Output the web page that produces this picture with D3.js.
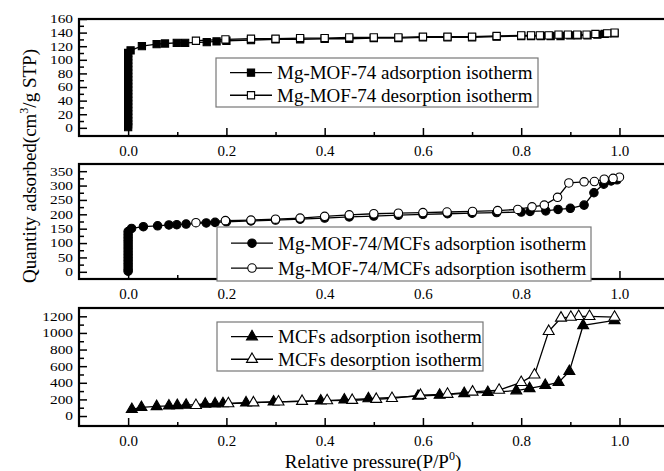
<!DOCTYPE html>
<html><head><meta charset="utf-8">
<script src="https://cdn.jsdelivr.net/npm/d3@7"></script>
<style>
body{margin:0;background:#fff;}
svg{display:block;font-family:"Liberation Serif","Times New Roman",serif;}
</style></head>
<body>
<svg id="chart" width="664" height="471"></svg>
<script>
// ---------- data ----------
const xTicks = [0.0, 0.2, 0.4, 0.6, 0.8, 1.0];
const xMinorTicks = [0.1, 0.3, 0.5, 0.7, 0.9];

// Panel 1: Mg-MOF-74
const mofAdsX = [0,0,0,0,0,0,0,0,0,0,0,0,0,0,0,0,0,0,0,0,0,0,0,
  0.005,0.028,0.058,0.075,0.099,0.116,0.16,0.18,0.2,0.25,0.3,0.35,0.4,0.45,0.5,0.55,0.6,0.65,0.7,0.75,0.8,0.82,0.84,0.86,0.88,0.9,0.915,0.935,0.955,0.97,0.99];
const mofAdsY = [1,5,10,15,20,25,30,35,40,45,50,55,60,65,70,75,80,85,90,95,100,105,110,
  114,120,123,124,125,125,126,127,128,129,130,130,131,131,132,132,133,133,133,134,135,135,135,135,135,136,136,136,137,138,139];
const mofDesX = [0.99,0.975,0.951,0.933,0.914,0.895,0.876,0.856,0.838,0.82,0.80,0.75,0.70,0.65,0.60,0.55,0.50,0.45,0.40,0.35,0.30,0.25,0.198,0.138];
const mofDesY = [140,139,138,137,137,137,137,136,136,136,136,135,134,134,134,133,133,133,132,132,131,131,130,128];
const mofYTicks = [0,20,40,60,80,100,120,140,160];
const mofYMinor = [10,30,50,70,90,110,130,150];

// Panel 2: Mg-MOF-74/MCFs
const compAdsX = [0,0,0,0,0,0,0,0,0,0,0,0,0,0,0,
  0.007,0.031,0.06,0.083,0.099,0.118,0.159,0.177,0.2,0.25,0.3,0.35,0.4,0.45,0.5,0.55,0.6,0.65,0.7,0.75,0.8,0.818,0.85,0.875,0.9,0.928,0.948,0.968,0.983,0.995];
const compAdsY = [2,10,20,30,40,50,60,70,80,90,100,110,120,130,140,
  151,157,160,163,164,166,170,172,174,177,180,183,187,191,194,197,200,202,204,206,208,210,212,217,221,232,275,305,316,320];
const compDesX = [1.0,0.987,0.969,0.949,0.928,0.897,0.874,0.847,0.822,0.793,0.752,0.701,0.649,0.6,0.55,0.5,0.45,0.4,0.35,0.3,0.25,0.198,0.138];
const compDesY = [329,325,322,314,313,309,259,232,226,217,213,210,208,206,204,202,198,193,187,183,180,178,171];
const compYTicks = [0,50,100,150,200,250,300,350];
const compYMinor = [25,75,125,175,225,275,325];

// Panel 3: MCFs
const mcfAdsX = [0.0075,0.027,0.058,0.083,0.1,0.118,0.157,0.177,0.193,0.24,0.296,0.392,0.44,0.489,0.59,0.634,0.684,0.732,0.79,0.817,0.849,0.876,0.898,0.926,0.99];
const mcfAdsY = [80,105,115,122,127,132,145,148,150,160,170,182,195,210,240,252,272,285,305,332,370,405,537,1090,1150];
const mcfDesX = [0.99,0.939,0.917,0.901,0.881,0.856,0.827,0.80,0.755,0.701,0.65,0.595,0.537,0.505,0.456,0.405,0.354,0.306,0.255,0.204,0.138];
const mcfDesY = [1190,1200,1200,1190,1180,1020,495,405,312,290,263,250,212,202,190,185,178,170,160,150,128];
const mcfYTicks = [0,200,400,600,800,1000,1200];
const mcfYMinor = [100,300,500,700,900,1100];

const legend1 = ["Mg-MOF-74 adsorption isotherm", "Mg-MOF-74 desorption isotherm"];
const legend2 = ["Mg-MOF-74/MCFs adsorption isotherm", "Mg-MOF-74/MCFs adsorption isotherm"];
const legend3 = ["MCFs adsorption isotherm", "MCFs desorption isotherm"];

// ---------- drawing ----------
const svg = d3.select("#chart");
const x = d3.scaleLinear().domain([-0.1, 1.1]).range([79, 668.6]);

const panels = [
  {top:19, bottom:136, ydom:[-12,160], yt:mofYTicks, ym:mofYMinor, shape:"square",
   ads:[mofAdsX,mofAdsY], des:[mofDesX,mofDesY], legend:legend1,
   lg:{x:216, y:58, w:322, h:49}},
  {top:164, bottom:279, ydom:[-25,375], yt:compYTicks, ym:compYMinor, shape:"circle",
   ads:[compAdsX,compAdsY], des:[compDesX,compDesY], legend:legend2,
   lg:{x:217, y:227, w:374, h:54}},
  {top:308, bottom:426, ydom:[-120,1300], yt:mcfYTicks, ym:mcfYMinor, shape:"triangle",
   ads:[mcfAdsX,mcfAdsY], des:[mcfDesX,mcfDesY], legend:legend3,
   lg:{x:217, y:322, w:266, h:49}}
];

function symbolFor(shape){
  if (shape==="square") return d3.symbol().type(d3.symbolSquare).size(52);
  if (shape==="circle") return d3.symbol().type(d3.symbolCircle).size(56);
  return d3.symbol().type(d3.symbolTriangle).size(52);
}

panels.forEach((p, i) => {
  const y = d3.scaleLinear().domain(p.ydom).range([p.bottom, p.top]);
  const g = svg.append("g");
  const clipId = "clip" + i;
  svg.append("clipPath").attr("id", clipId).append("rect")
    .attr("x", x.range()[0]).attr("y", p.top).attr("width", x.range()[1]-x.range()[0]).attr("height", p.bottom-p.top);

  // y axis
  const ya = g.append("g").attr("transform", `translate(${x.range()[0]},0)`)
    .call(d3.axisLeft(y).tickValues(p.yt).tickSizeInner(-8).tickSizeOuter(0).tickPadding(6).tickFormat(d3.format("d")));
  ya.select(".domain").remove();
  ya.selectAll("line").attr("stroke","#000").attr("stroke-width",1.5);
  ya.selectAll("text")
    .attr("x", null)
    .attr("transform","translate(-6,0) scale(1.28,1)")
    .attr("font-size",12).attr("font-family","Liberation Serif").attr("fill","#000");
  const ym = g.append("g").attr("transform", `translate(${x.range()[0]},0)`)
    .call(d3.axisLeft(y).tickValues(p.ym).tickSizeInner(-5).tickSizeOuter(0).tickFormat(""));
  ym.select(".domain").remove();
  ym.selectAll("line").attr("stroke","#000").attr("stroke-width",1.5);

  // x axis
  const xa = g.append("g").attr("transform", `translate(0,${p.bottom})`)
    .call(d3.axisBottom(x).tickValues(xTicks).tickSizeInner(-8).tickSizeOuter(0).tickPadding(9).tickFormat(d3.format(".1f")));
  xa.select(".domain").remove();
  xa.selectAll("line").attr("stroke","#000").attr("stroke-width",1.5);
  xa.selectAll("text").attr("font-size",15).attr("font-family","Liberation Serif").attr("fill","#000");
  const xm = g.append("g").attr("transform", `translate(0,${p.bottom})`)
    .call(d3.axisBottom(x).tickValues(xMinorTicks).tickSizeInner(-4).tickSizeOuter(0).tickFormat(""));
  xm.select(".domain").remove();
  xm.selectAll("line").attr("stroke","#000").attr("stroke-width",1.5);

  // frame
  g.append("rect").attr("x", x.range()[0]).attr("y", p.top)
    .attr("width", x.range()[1]-x.range()[0]).attr("height", p.bottom-p.top)
    .attr("fill","none").attr("stroke","#000").attr("stroke-width",2.2);

  const line = d3.line().x(d=>x(d[0])).y(d=>y(d[1]));
  const sym = symbolFor(p.shape);
  const data = g.append("g").attr("clip-path", `url(#${clipId})`);

  [[p.ads, "#000"], [p.des, "#fff"]].forEach(([arr, fill]) => {
    const pts = arr[0].map((v,k)=>[v, arr[1][k]]);
    data.append("path").datum(pts).attr("d", line)
      .attr("fill","none").attr("stroke","#000").attr("stroke-width",1.3);
    data.selectAll(null).data(pts).enter().append("path")
      .attr("d", sym)
      .attr("transform", d=>`translate(${x(d[0])},${y(d[1])})`)
      .attr("fill", fill).attr("stroke","#000").attr("stroke-width",1.1);
  });

  // legend
  const L = p.lg;
  const lg = g.append("g");
  lg.append("rect").attr("x",L.x).attr("y",L.y).attr("width",L.w).attr("height",L.h)
    .attr("fill","#fff").attr("stroke","#777").attr("stroke-width",1.2);
  const rowY = [L.y + L.h*0.30, L.y + L.h*0.76];
  p.legend.forEach((t, k) => {
    const ry = rowY[k];
    lg.append("line").attr("x1",L.x+14).attr("x2",L.x+56).attr("y1",ry).attr("y2",ry)
      .attr("stroke","#000").attr("stroke-width",1.3);
    lg.append("path").attr("d", sym).attr("transform",`translate(${L.x+35},${ry})`)
      .attr("fill", k===0 ? "#000" : "#fff").attr("stroke","#000").attr("stroke-width",1.1);
    lg.append("text").attr("x", L.x+61).attr("y", ry).attr("dy","0.35em")
      .attr("font-size",19).attr("fill","#000").text(t);
  });
});

// axis titles
const yt = svg.append("text")
  .attr("transform","translate(36,166) rotate(-90)")
  .attr("text-anchor","middle").attr("font-size",19).attr("fill","#000");
yt.append("tspan").text("Quantity adsorbed(cm");
yt.append("tspan").attr("font-size",12).attr("dy",-8).text("3");
yt.append("tspan").attr("dy",8).text("/g STP)");

const xt = svg.append("text")
  .attr("x",373).attr("y",468)
  .attr("text-anchor","middle").attr("font-size",19).attr("fill","#000");
xt.append("tspan").text("Relative pressure(P/P");
xt.append("tspan").attr("font-size",12).attr("dy",-8).text("0");
xt.append("tspan").attr("dy",8).text(")");
</script>
</body></html>
